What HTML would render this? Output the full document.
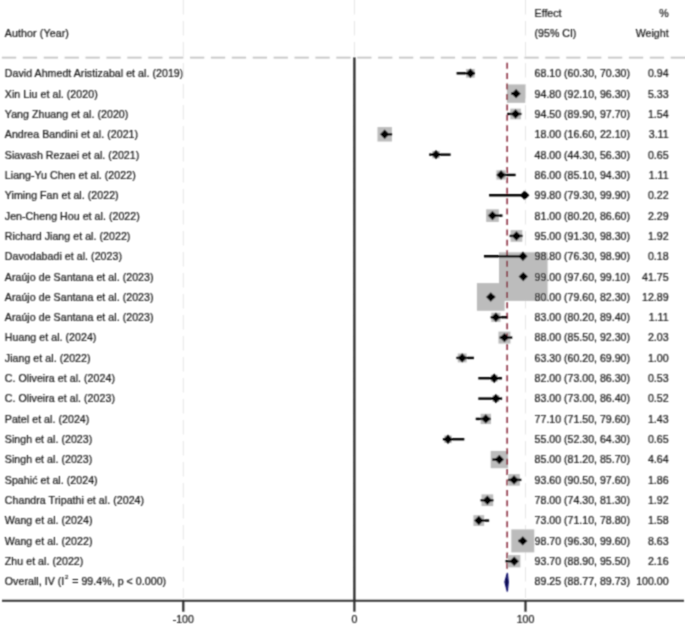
<!DOCTYPE html>
<html><head><meta charset="utf-8"><style>
html,body{margin:0;padding:0;background:#fff;}
svg{display:block;}
text{font-family:"Liberation Sans",sans-serif;font-size:10.6px;fill:#111;stroke:#111;stroke-width:0.2px;}
</style></head><body>
<svg width="685" height="627" viewBox="0 0 685 627">
<defs><filter id="bl" x="0" y="0" width="100%" height="100%" filterUnits="userSpaceOnUse"><feConvolveMatrix order="3" kernelMatrix="0.04387 0.12171 0.04387 0.12171 0.33767 0.12171 0.04387 0.12171 0.04387" edgeMode="duplicate" preserveAlpha="false"/></filter></defs>
<rect width="685" height="627" fill="#fff"/>
<g filter="url(#bl)">

<line x1="183.30" y1="0" x2="183.30" y2="598" stroke="#e6e6e6" stroke-width="1" stroke-dasharray="14.5 6.5"/>
<line x1="354.40" y1="0" x2="354.40" y2="598" stroke="#e6e6e6" stroke-width="1" stroke-dasharray="14.5 6.5"/>
<line x1="525.50" y1="0" x2="525.50" y2="598" stroke="#e6e6e6" stroke-width="1" stroke-dasharray="14.5 6.5"/>
<line x1="1.9" y1="57.7" x2="685" y2="57.7" stroke="#c4c4c4" stroke-width="1.7" stroke-dasharray="14.3 6.6"/>
<rect x="466.09" y="68.98" width="8.65" height="8.65" fill="#bcbcbc"/>
<rect x="506.91" y="84.44" width="18.38" height="18.38" fill="#bcbcbc"/>
<rect x="510.28" y="108.65" width="10.62" height="10.62" fill="#bcbcbc"/>
<rect x="377.49" y="127.08" width="14.42" height="14.42" fill="#bcbcbc"/>
<rect x="432.30" y="150.89" width="7.46" height="7.46" fill="#bcbcbc"/>
<rect x="496.42" y="170.32" width="9.26" height="9.26" fill="#bcbcbc"/>
<rect x="522.15" y="192.78" width="5.01" height="5.01" fill="#bcbcbc"/>
<rect x="486.19" y="209.31" width="12.60" height="12.60" fill="#bcbcbc"/>
<rect x="510.61" y="230.10" width="11.67" height="11.67" fill="#bcbcbc"/>
<rect x="520.60" y="253.93" width="4.68" height="4.68" fill="#bcbcbc"/>
<rect x="499.00" y="252.31" width="48.57" height="48.57" fill="#bcbcbc"/>
<rect x="476.93" y="283.08" width="27.70" height="27.70" fill="#bcbcbc"/>
<rect x="491.28" y="312.63" width="9.26" height="9.26" fill="#bcbcbc"/>
<rect x="498.49" y="331.61" width="11.96" height="11.96" fill="#bcbcbc"/>
<rect x="457.77" y="353.49" width="8.87" height="8.87" fill="#bcbcbc"/>
<rect x="490.76" y="374.80" width="6.89" height="6.89" fill="#bcbcbc"/>
<rect x="492.49" y="395.16" width="6.84" height="6.84" fill="#bcbcbc"/>
<rect x="480.67" y="413.76" width="10.29" height="10.29" fill="#bcbcbc"/>
<rect x="444.27" y="435.51" width="7.46" height="7.46" fill="#bcbcbc"/>
<rect x="490.70" y="450.94" width="17.26" height="17.26" fill="#bcbcbc"/>
<rect x="508.29" y="474.14" width="11.51" height="11.51" fill="#bcbcbc"/>
<rect x="481.52" y="494.39" width="11.67" height="11.67" fill="#bcbcbc"/>
<rect x="473.43" y="515.19" width="10.74" height="10.74" fill="#bcbcbc"/>
<rect x="511.30" y="529.41" width="22.96" height="22.96" fill="#bcbcbc"/>
<rect x="508.08" y="555.08" width="12.28" height="12.28" fill="#bcbcbc"/>
<line x1="507.11" y1="62.7" x2="507.11" y2="571" stroke="#7d1426" stroke-width="1.4" stroke-dasharray="6 4.42"/>
<line x1="354.40" y1="57.3" x2="354.40" y2="601" stroke="#2a2a2a" stroke-width="2.3"/>
<line x1="456.57" y1="73.30" x2="474.58" y2="73.30" stroke="#000" stroke-width="2.4"/>
<path d="M465.72 73.30L470.42 68.60L475.12 73.30L470.42 78.00Z" fill="#000"/>
<line x1="510.98" y1="93.63" x2="519.07" y2="93.63" stroke="#000" stroke-width="2.4"/>
<path d="M511.40 93.63L516.10 88.93L520.80 93.63L516.10 98.33Z" fill="#000"/>
<line x1="507.22" y1="113.96" x2="521.46" y2="113.96" stroke="#000" stroke-width="2.4"/>
<path d="M510.89 113.96L515.59 109.26L520.29 113.96L515.59 118.66Z" fill="#000"/>
<line x1="381.80" y1="134.29" x2="392.11" y2="134.29" stroke="#000" stroke-width="2.4"/>
<path d="M380.00 134.29L384.70 129.59L389.40 134.29L384.70 138.99Z" fill="#000"/>
<line x1="429.20" y1="154.62" x2="450.63" y2="154.62" stroke="#000" stroke-width="2.4"/>
<path d="M431.33 154.62L436.03 149.92L440.73 154.62L436.03 159.32Z" fill="#000"/>
<line x1="499.01" y1="174.95" x2="515.65" y2="174.95" stroke="#000" stroke-width="2.4"/>
<path d="M496.35 174.95L501.05 170.25L505.75 174.95L501.05 179.65Z" fill="#000"/>
<line x1="489.08" y1="195.28" x2="525.23" y2="195.28" stroke="#000" stroke-width="2.4"/>
<path d="M519.96 195.28L524.66 190.58L529.36 195.28L524.66 199.98Z" fill="#000"/>
<line x1="490.62" y1="215.61" x2="502.47" y2="215.61" stroke="#000" stroke-width="2.4"/>
<path d="M487.79 215.61L492.49 210.91L497.19 215.61L492.49 220.31Z" fill="#000"/>
<line x1="509.61" y1="235.94" x2="522.49" y2="235.94" stroke="#000" stroke-width="2.4"/>
<path d="M511.74 235.94L516.44 231.24L521.14 235.94L516.44 240.64Z" fill="#000"/>
<line x1="483.95" y1="256.27" x2="523.52" y2="256.27" stroke="#000" stroke-width="2.4"/>
<path d="M518.25 256.27L522.95 251.57L527.65 256.27L522.95 260.97Z" fill="#000"/>
<line x1="520.39" y1="276.60" x2="523.86" y2="276.60" stroke="#000" stroke-width="2.4"/>
<path d="M518.59 276.60L523.29 271.90L527.99 276.60L523.29 281.30Z" fill="#000"/>
<line x1="489.60" y1="296.93" x2="495.12" y2="296.93" stroke="#000" stroke-width="2.4"/>
<path d="M486.08 296.93L490.78 292.23L495.48 296.93L490.78 301.63Z" fill="#000"/>
<line x1="490.62" y1="317.26" x2="507.26" y2="317.26" stroke="#000" stroke-width="2.4"/>
<path d="M491.21 317.26L495.91 312.56L500.61 317.26L495.91 321.96Z" fill="#000"/>
<line x1="499.69" y1="337.59" x2="512.23" y2="337.59" stroke="#000" stroke-width="2.4"/>
<path d="M499.77 337.59L504.47 332.89L509.17 337.59L504.47 342.29Z" fill="#000"/>
<line x1="456.40" y1="357.92" x2="473.90" y2="357.92" stroke="#000" stroke-width="2.4"/>
<path d="M457.51 357.92L462.21 353.22L466.91 357.92L462.21 362.62Z" fill="#000"/>
<line x1="478.30" y1="378.25" x2="501.96" y2="378.25" stroke="#000" stroke-width="2.4"/>
<path d="M489.50 378.25L494.20 373.55L498.90 378.25L494.20 382.95Z" fill="#000"/>
<line x1="478.30" y1="398.58" x2="502.13" y2="398.58" stroke="#000" stroke-width="2.4"/>
<path d="M491.21 398.58L495.91 393.88L500.61 398.58L495.91 403.28Z" fill="#000"/>
<line x1="475.74" y1="418.91" x2="490.50" y2="418.91" stroke="#000" stroke-width="2.4"/>
<path d="M481.12 418.91L485.82 414.21L490.52 418.91L485.82 423.61Z" fill="#000"/>
<line x1="442.89" y1="439.24" x2="464.32" y2="439.24" stroke="#000" stroke-width="2.4"/>
<path d="M443.31 439.24L448.00 434.54L452.70 439.24L448.00 443.94Z" fill="#000"/>
<line x1="492.33" y1="459.57" x2="500.93" y2="459.57" stroke="#000" stroke-width="2.4"/>
<path d="M494.63 459.57L499.33 454.87L504.03 459.57L499.33 464.27Z" fill="#000"/>
<line x1="508.25" y1="479.90" x2="521.29" y2="479.90" stroke="#000" stroke-width="2.4"/>
<path d="M509.35 479.90L514.05 475.20L518.75 479.90L514.05 484.60Z" fill="#000"/>
<line x1="480.53" y1="500.23" x2="493.40" y2="500.23" stroke="#000" stroke-width="2.4"/>
<path d="M482.66 500.23L487.36 495.53L492.06 500.23L487.36 504.93Z" fill="#000"/>
<line x1="475.05" y1="520.56" x2="489.13" y2="520.56" stroke="#000" stroke-width="2.4"/>
<path d="M474.10 520.56L478.80 515.86L483.50 520.56L478.80 525.26Z" fill="#000"/>
<line x1="518.17" y1="540.89" x2="524.72" y2="540.89" stroke="#000" stroke-width="2.4"/>
<path d="M518.08 540.89L522.78 536.19L527.48 540.89L522.78 545.59Z" fill="#000"/>
<line x1="505.51" y1="561.22" x2="517.70" y2="561.22" stroke="#000" stroke-width="2.4"/>
<path d="M509.52 561.22L514.22 556.52L518.92 561.22L514.22 565.92Z" fill="#000"/>
<path d="M507.3 573.4L505.0 582.0L507.3 591.0L508.2 582.0Z" fill="#0a0a3c" stroke="#14146e" stroke-width="1.4" stroke-linejoin="round"/>
<line x1="2" y1="600.8" x2="684" y2="600.8" stroke="#333" stroke-width="2"/>
<line x1="183.30" y1="600" x2="183.30" y2="611.7" stroke="#2a2a2a" stroke-width="2.2"/>
<text x="183.30" y="623" text-anchor="middle" font-size="10">-100</text>
<line x1="354.40" y1="600" x2="354.40" y2="611.7" stroke="#2a2a2a" stroke-width="2.2"/>
<text x="354.40" y="623" text-anchor="middle" font-size="10">0</text>
<line x1="525.50" y1="600" x2="525.50" y2="611.7" stroke="#2a2a2a" stroke-width="2.2"/>
<text x="525.50" y="623" text-anchor="middle" font-size="10">100</text>
<text x="4.8" y="37.1" letter-spacing="0.12">Author (Year)</text>
<text x="534.6" y="16.8">Effect</text>
<text x="534.6" y="37.3">(95% CI)</text>
<text x="668.6" y="16.8" text-anchor="end">%</text>
<text x="668.6" y="36.8" text-anchor="end">Weight</text>
<text x="4.8" y="77.20" letter-spacing="0.05">David Ahmedt Aristizabal et al. (2019)</text>
<text x="534.6" y="77.20">68.10 (60.30, 70.30)</text>
<text x="668.6" y="77.20" text-anchor="end">0.94</text>
<text x="4.8" y="97.53" letter-spacing="0.05">Xin Liu et al. (2020)</text>
<text x="534.6" y="97.53">94.80 (92.10, 96.30)</text>
<text x="668.6" y="97.53" text-anchor="end">5.33</text>
<text x="4.8" y="117.86" letter-spacing="0.05">Yang Zhuang et al. (2020)</text>
<text x="534.6" y="117.86">94.50 (89.90, 97.70)</text>
<text x="668.6" y="117.86" text-anchor="end">1.54</text>
<text x="4.8" y="138.19" letter-spacing="0.05">Andrea Bandini et al. (2021)</text>
<text x="534.6" y="138.19">18.00 (16.60, 22.10)</text>
<text x="668.6" y="138.19" text-anchor="end">3.11</text>
<text x="4.8" y="158.52" letter-spacing="0.05">Siavash Rezaei et al. (2021)</text>
<text x="534.6" y="158.52">48.00 (44.30, 56.30)</text>
<text x="668.6" y="158.52" text-anchor="end">0.65</text>
<text x="4.8" y="178.85" letter-spacing="0.05">Liang-Yu Chen et al. (2022)</text>
<text x="534.6" y="178.85">86.00 (85.10, 94.30)</text>
<text x="668.6" y="178.85" text-anchor="end">1.11</text>
<text x="4.8" y="199.18" letter-spacing="0.05">Yiming Fan et al. (2022)</text>
<text x="534.6" y="199.18">99.80 (79.30, 99.90)</text>
<text x="668.6" y="199.18" text-anchor="end">0.22</text>
<text x="4.8" y="219.51" letter-spacing="0.05">Jen-Cheng Hou et al. (2022)</text>
<text x="534.6" y="219.51">81.00 (80.20, 86.60)</text>
<text x="668.6" y="219.51" text-anchor="end">2.29</text>
<text x="4.8" y="239.84" letter-spacing="0.05">Richard Jiang et al. (2022)</text>
<text x="534.6" y="239.84">95.00 (91.30, 98.30)</text>
<text x="668.6" y="239.84" text-anchor="end">1.92</text>
<text x="4.8" y="260.17" letter-spacing="0.05">Davodabadi et al. (2023)</text>
<text x="534.6" y="260.17">98.80 (76.30, 98.90)</text>
<text x="668.6" y="260.17" text-anchor="end">0.18</text>
<text x="4.8" y="280.50" letter-spacing="0.05">Araújo de Santana et al. (2023)</text>
<text x="534.6" y="280.50">99.00 (97.60, 99.10)</text>
<text x="668.6" y="280.50" text-anchor="end">41.75</text>
<text x="4.8" y="300.83" letter-spacing="0.05">Araújo de Santana et al. (2023)</text>
<text x="534.6" y="300.83">80.00 (79.60, 82.30)</text>
<text x="668.6" y="300.83" text-anchor="end">12.89</text>
<text x="4.8" y="321.16" letter-spacing="0.05">Araújo de Santana et al. (2023)</text>
<text x="534.6" y="321.16">83.00 (80.20, 89.40)</text>
<text x="668.6" y="321.16" text-anchor="end">1.11</text>
<text x="4.8" y="341.49" letter-spacing="0.05">Huang et al. (2024)</text>
<text x="534.6" y="341.49">88.00 (85.50, 92.30)</text>
<text x="668.6" y="341.49" text-anchor="end">2.03</text>
<text x="4.8" y="361.82" letter-spacing="0.05">Jiang et al. (2022)</text>
<text x="534.6" y="361.82">63.30 (60.20, 69.90)</text>
<text x="668.6" y="361.82" text-anchor="end">1.00</text>
<text x="4.8" y="382.15" letter-spacing="0.05">C. Oliveira et al. (2024)</text>
<text x="534.6" y="382.15">82.00 (73.00, 86.30)</text>
<text x="668.6" y="382.15" text-anchor="end">0.53</text>
<text x="4.8" y="402.48" letter-spacing="0.05">C. Oliveira et al. (2023)</text>
<text x="534.6" y="402.48">83.00 (73.00, 86.40)</text>
<text x="668.6" y="402.48" text-anchor="end">0.52</text>
<text x="4.8" y="422.81" letter-spacing="0.05">Patel et al. (2024)</text>
<text x="534.6" y="422.81">77.10 (71.50, 79.60)</text>
<text x="668.6" y="422.81" text-anchor="end">1.43</text>
<text x="4.8" y="443.14" letter-spacing="0.05">Singh et al. (2023)</text>
<text x="534.6" y="443.14">55.00 (52.30, 64.30)</text>
<text x="668.6" y="443.14" text-anchor="end">0.65</text>
<text x="4.8" y="463.47" letter-spacing="0.05">Singh et al. (2023)</text>
<text x="534.6" y="463.47">85.00 (81.20, 85.70)</text>
<text x="668.6" y="463.47" text-anchor="end">4.64</text>
<text x="4.8" y="483.80" letter-spacing="0.05">Spahić et al. (2024)</text>
<text x="534.6" y="483.80">93.60 (90.50, 97.60)</text>
<text x="668.6" y="483.80" text-anchor="end">1.86</text>
<text x="4.8" y="504.13" letter-spacing="0.05">Chandra Tripathi et al. (2024)</text>
<text x="534.6" y="504.13">78.00 (74.30, 81.30)</text>
<text x="668.6" y="504.13" text-anchor="end">1.92</text>
<text x="4.8" y="524.46" letter-spacing="0.05">Wang et al. (2024)</text>
<text x="534.6" y="524.46">73.00 (71.10, 78.80)</text>
<text x="668.6" y="524.46" text-anchor="end">1.58</text>
<text x="4.8" y="544.79" letter-spacing="0.05">Wang et al. (2022)</text>
<text x="534.6" y="544.79">98.70 (96.30, 99.60)</text>
<text x="668.6" y="544.79" text-anchor="end">8.63</text>
<text x="4.8" y="565.12" letter-spacing="0.05">Zhu et al. (2022)</text>
<text x="534.6" y="565.12">93.70 (88.90, 95.50)</text>
<text x="668.6" y="565.12" text-anchor="end">2.16</text>
<text x="4.8" y="585.45" letter-spacing="0.05">Overall, IV (I<tspan dy="-6" font-size="6" dx="0.6">2</tspan><tspan dy="6" dx="0.8"> = 99.4%, p &lt; 0.000)</tspan></text>
<text x="534.6" y="585.45">89.25 (88.77, 89.73)</text>
<text x="668.6" y="585.45" text-anchor="end">100.00</text>
</g></svg>
</body></html>
